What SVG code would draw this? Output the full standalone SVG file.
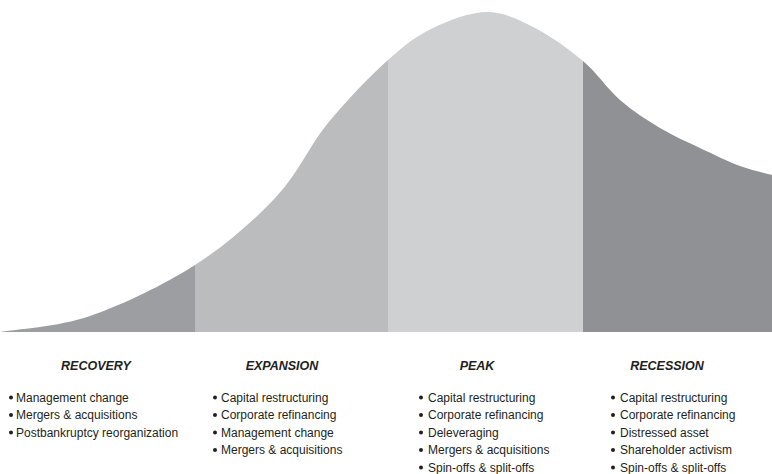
<svg xmlns="http://www.w3.org/2000/svg" width="772" height="474" viewBox="0 0 772 474">
<style>
.h{font-family:"Liberation Sans",Arial,sans-serif;font-size:12.5px;font-weight:bold;font-style:italic;fill:#231f20;text-anchor:middle}
.t{font-family:"Liberation Sans",Arial,sans-serif;font-size:12px;fill:#231f20}
.b{fill:#231f20}
</style>
<defs>
<clipPath id="curve">
<path d="M0,332 C15,329.3 57.5,327.2 90,316 C122.5,304.8 164,284.8 195,265 C226,245.2 253.8,220.7 276,197 C298.2,173.3 309.3,145.8 328,123 C346.7,100.2 370.5,75.8 388,60 C405.5,44.2 416.5,36 433,28 C449.5,20 470,12 487,12 C504,12 519,19.8 535,28 C551,36.2 568.8,49 583,61 C597.2,73 607.2,88.8 620,100 C632.8,111.2 646.7,120 660,128 C673.3,136 686.7,141.7 700,148 C713.3,154.3 728,161.5 740,166 C752,170.5 766.7,173.5 772,175 L772,332 Z"/>
</clipPath>
</defs>
<g id="curve-bands" clip-path="url(#curve)">
<rect id="band-recovery" x="0" y="0" width="195" height="332" fill="#9d9ea1"/>
<rect id="band-expansion" x="195" y="0" width="193" height="332" fill="#bbbcbe"/>
<rect id="band-peak" x="388" y="0" width="195" height="332" fill="#cfd0d2"/>
<rect id="band-recession" x="583" y="0" width="189" height="332" fill="#909194"/>
</g>
<g id="connectors"></g>
<g id="recovery">
<text class="h" x="96" y="370">RECOVERY</text>
<circle class="b" cx="11" cy="397.5" r="2"/><text class="t" x="16" y="401.5">Management change</text>
<circle class="b" cx="11" cy="415" r="2"/><text class="t" x="16" y="419">Mergers &amp; acquisitions</text>
<circle class="b" cx="11" cy="432.5" r="2"/><text class="t" x="16" y="436.5">Postbankruptcy reorganization</text>
</g>
<g id="expansion">
<text class="h" x="282" y="370">EXPANSION</text>
<circle class="b" cx="215" cy="397.5" r="2"/><text class="t" x="221" y="401.5">Capital restructuring</text>
<circle class="b" cx="215" cy="415" r="2"/><text class="t" x="221" y="419">Corporate refinancing</text>
<circle class="b" cx="215" cy="432.5" r="2"/><text class="t" x="221" y="436.5">Management change</text>
<circle class="b" cx="215" cy="450" r="2"/><text class="t" x="221" y="454">Mergers &amp; acquisitions</text>
</g>
<g id="peak">
<text class="h" x="477" y="370">PEAK</text>
<circle class="b" cx="421" cy="397.5" r="2"/><text class="t" x="428" y="401.5">Capital restructuring</text>
<circle class="b" cx="421" cy="415" r="2"/><text class="t" x="428" y="419">Corporate refinancing</text>
<circle class="b" cx="421" cy="432.5" r="2"/><text class="t" x="428" y="436.5">Deleveraging</text>
<circle class="b" cx="421" cy="450" r="2"/><text class="t" x="428" y="454">Mergers &amp; acquisitions</text>
<circle class="b" cx="421" cy="467.5" r="2"/><text class="t" x="428" y="471.5">Spin-offs &amp; split-offs</text>
</g>
<g id="recession">
<text class="h" x="667" y="370">RECESSION</text>
<circle class="b" cx="613" cy="397.5" r="2"/><text class="t" x="620" y="401.5">Capital restructuring</text>
<circle class="b" cx="613" cy="415" r="2"/><text class="t" x="620" y="419">Corporate refinancing</text>
<circle class="b" cx="613" cy="432.5" r="2"/><text class="t" x="620" y="436.5">Distressed asset</text>
<circle class="b" cx="613" cy="450" r="2"/><text class="t" x="620" y="454">Shareholder activism</text>
<circle class="b" cx="613" cy="467.5" r="2"/><text class="t" x="620" y="471.5">Spin-offs &amp; split-offs</text>
</g>
</svg>
